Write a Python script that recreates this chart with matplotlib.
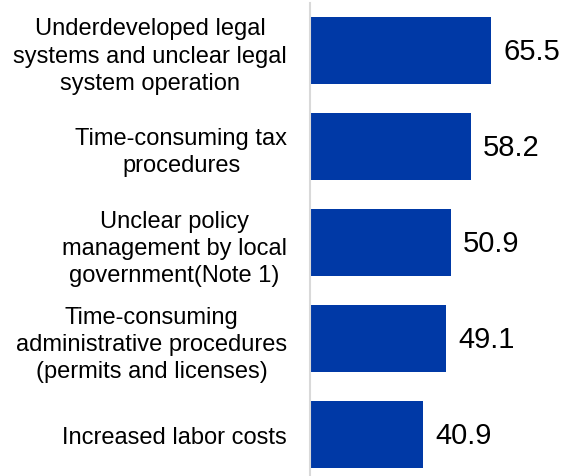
import matplotlib.pyplot as plt

plt.rcParams['font.family'] = ['Liberation Sans', 'DejaVu Sans']

# data
categories = [
    "Underdeveloped legal\nsystems and unclear legal\nsystem operation",
    "Time-consuming tax\nprocedures",
    "Unclear policy\nmanagement by local\ngovernment(Note 1)",
    "Time-consuming\nadministrative procedures\n(permits and licenses)",
    "Increased labor costs",
]
values = [65.5, 58.2, 50.9, 49.1, 40.9]

fig = plt.figure(figsize=(5.64, 4.77), dpi=100)
ax = fig.add_axes([310 / 564, 0, 254 / 564, 473 / 477])

pos = list(range(len(values)))
ax.barh(pos, values, height=0.7, color='#0039A6')

for p, v in zip(pos, values):
    ax.annotate(f"{v:.1f}", (v, p), xytext=(9, 0), textcoords='offset points',
                ha='left', va='center', fontsize=21, color='black')

ax.set_xlim(0, 92)
ax.set_ylim(4.43, -0.495)
ax.set_yticks(pos)
ax.set_yticklabels(categories, fontsize=17, multialignment='center', linespacing=1.3)
ax.tick_params(axis='y', length=0, pad=16.5)
ax.set_xticks([])

for s in ['top', 'right', 'bottom']:
    ax.spines[s].set_visible(False)
ax.spines['left'].set_color('#D9D9D9')
ax.spines['left'].set_linewidth(1.5)

fig.savefig('out.png', dpi=100)
